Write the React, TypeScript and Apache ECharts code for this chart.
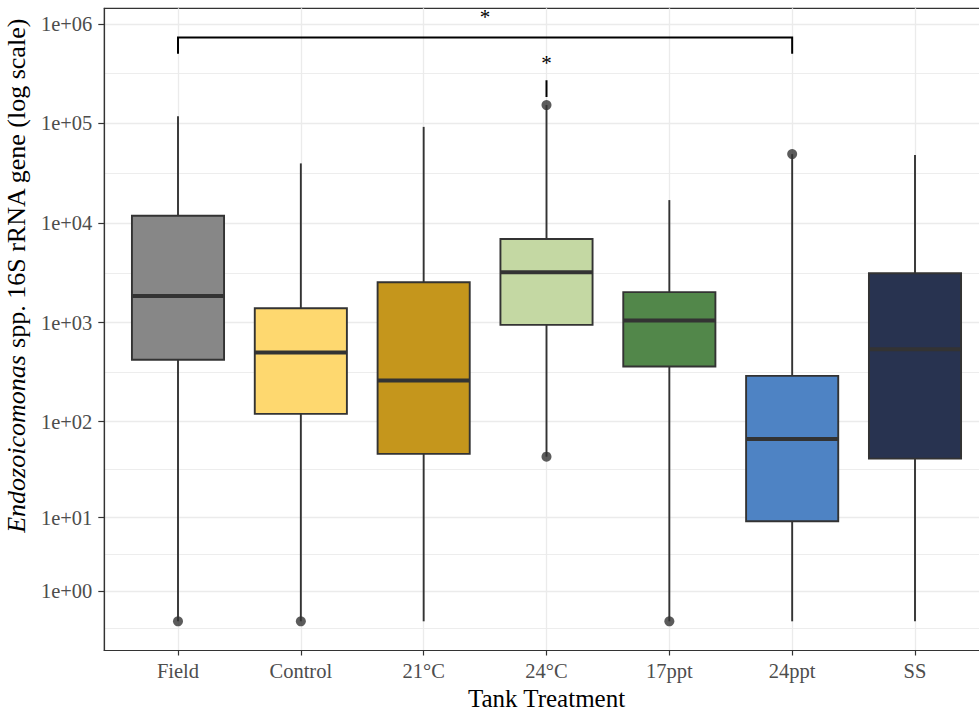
import React, { useEffect, useRef } from "react";
import * as echarts from "echarts";

// Treatment groups along the x axis
const categories = ["Field", "Control", "21°C", "24°C", "17ppt", "24ppt", "SS"];

// Box statistics (gene copies, raw units)
const lowerWhisker = [0, 0, 0, 44, 0, 0, 0];
const q1 = [422, 120, 47, 947, 361, 9.1, 42];
const medians = [1850, 500, 261, 3200, 1047, 66.7, 540];
const q3 = [11840, 1394, 2540, 6920, 2020, 291, 3130];
const upperWhisker = [118000, 39700, 92400, 153000, 17000, 49200, 48100];

// Outlying samples: group index and value
const outlierGroups = [0, 1, 3, 3, 4, 5];
const outlierValues = [0, 0, 153000, 44, 0, 49200];

const boxColors = ["#878787", "#FED86F", "#C5961C", "#C4D8A3", "#52874A", "#4E83C4", "#283350"];

// Axis breaks on the log10(x + 1) scale
const tickValues = [1, 10, 100, 1000, 10000, 100000, 1000000];
const tickLabels = ["1e+00", "1e+01", "1e+02", "1e+03", "1e+04", "1e+05", "1e+06"];

// Significance annotations (group indices and heights in raw units)
const sigFrom = [0, 3];
const sigTo = [5, 3];
const sigTop = [730000, 272000];
const sigTip = [500000, 184000];
const sigLabelAt = [925000, 317000];
const sigLabels = ["*", "*"];

const FONT = "Liberation Serif";
const BOX_WIDTH = 0.75;

const tr = (v: number) => Math.log10(1 + v);

export default function App() {
  const ref = useRef<HTMLDivElement>(null);

  useEffect(() => {
    if (!ref.current) return;
    const chart = echarts.init(ref.current, undefined, { renderer: "svg" });

    const majors = tickValues.map(tr);
    const minors: number[] = [];
    minors.push(majors[0] - (majors[1] - majors[0]) / 2);
    for (let i = 0; i < majors.length - 1; i++) minors.push((majors[i] + majors[i + 1]) / 2);
    minors.push(majors[majors.length - 1] + (majors[majors.length - 1] - majors[majors.length - 2]) / 2);

    // continuous range of the plotted data, padded by 5% each side
    const lo = 0;
    const hi = tr(Math.max(...sigTop));
    const pad = (hi - lo) * 0.05;
    const yMin = lo - pad;
    const yMax = hi + pad;
    const minorIn = minors.filter((m) => m > yMin && m < yMax);

    const boxData = categories.map((_, i) => [
      i,
      tr(lowerWhisker[i]),
      tr(q1[i]),
      tr(medians[i]),
      tr(q3[i]),
      tr(upperWhisker[i]),
    ]);
    const outlierData = outlierGroups.map((g, k) => [g, tr(outlierValues[k])]);
    const sigData = sigFrom.map((f, k) => [f, sigTo[k], tr(sigTop[k]), tr(sigTip[k]), tr(sigLabelAt[k])]);

    const labelFor = (v: number) => {
      const idx = majors.findIndex((m) => Math.abs(m - v) < 1e-6);
      return idx >= 0 ? tickLabels[idx] : "";
    };

    chart.setOption({
      animation: false,
      backgroundColor: "#ffffff",
      grid: {
        left: 104.3,
        right: -9.7,
        top: 8.3,
        bottom: 60.5,
        containLabel: false,
        outerBoundsMode: "none",
        show: true,
        borderColor: "#333333",
        borderWidth: 1.2,
        backgroundColor: "transparent",
      },
      xAxis: {
        type: "value",
        min: -0.6,
        max: categories.length - 1 + 0.6,
        name: "Tank Treatment",
        nameLocation: "middle",
        nameGap: 32,
        nameTextStyle: { fontFamily: FONT, fontSize: 25, lineHeight: 25, color: "#000000" },
        axisLine: { show: true, onZero: false, lineStyle: { color: "#333333", width: 1.2 } },
        axisTick: {
          show: true,
          length: 5,
          customValues: categories.map((_, i) => i),
          lineStyle: { color: "#333333", width: 1.2 },
        },
        axisLabel: {
          customValues: categories.map((_, i) => i),
          formatter: (v: number) => categories[Math.round(v)] ?? "",
          fontFamily: FONT,
          fontSize: 20.5,
          color: "#4D4D4D",
          margin: 10,
        },
        splitLine: { show: true, lineStyle: { color: "#EBEBEB", width: 1.3 } },
      },
      yAxis: [
        {
          type: "value",
          min: yMin,
          max: yMax,
          name: "{i|Endozoicomonas} spp. 16S rRNA gene (log scale)",
          nameLocation: "middle",
          nameGap: 69,
          nameTextStyle: {
            fontFamily: FONT,
            fontSize: 26,
            color: "#000000",
            padding: [0, 0, 0, 108],
            rich: {
              i: { fontFamily: FONT, fontSize: 26, fontStyle: "italic", color: "#000000" },
            },
          },
          axisLine: { show: true, onZero: false, lineStyle: { color: "#333333", width: 1.2 } },
          axisTick: {
            show: true,
            length: 6,
            customValues: majors,
            lineStyle: { color: "#333333", width: 1.2 },
          },
          axisLabel: {
            customValues: majors,
            formatter: labelFor,
            fontFamily: FONT,
            fontSize: 20.5,
            color: "#4D4D4D",
            margin: 12,
          },
          splitLine: { show: true, lineStyle: { color: "#EBEBEB", width: 1.3 } },
        },
        {
          type: "value",
          min: yMin,
          max: yMax,
          position: "left",
          axisLine: { show: false, onZero: false },
          axisTick: { show: false, customValues: minorIn },
          axisLabel: { show: false, customValues: minorIn },
          splitLine: { show: true, lineStyle: { color: "#EBEBEB", width: 0.9 } },
        },
      ],
      series: [
        {
          type: "custom",
          name: "boxes",
          xAxisIndex: 0,
          yAxisIndex: 0,
          clip: false,
          z: 3,
          encode: { x: 0, y: [1, 2, 3, 4, 5] },
          data: boxData,
          renderItem: (params: any, api: any) => {
            const i = params.dataIndex;
            const x = api.value(0);
            const pLo = api.coord([x, api.value(1)]);
            const pQ1 = api.coord([x, api.value(2)]);
            const pMd = api.coord([x, api.value(3)]);
            const pQ3 = api.coord([x, api.value(4)]);
            const pHi = api.coord([x, api.value(5)]);
            const half = api.size([BOX_WIDTH, 0])[0] / 2;
            const cx = pLo[0];
            const line = { stroke: "#333333", lineWidth: 1.9 };
            return {
              type: "group",
              children: [
                { type: "line", shape: { x1: cx, y1: pHi[1], x2: cx, y2: pQ3[1] }, style: line },
                { type: "line", shape: { x1: cx, y1: pQ1[1], x2: cx, y2: pLo[1] }, style: line },
                {
                  type: "rect",
                  shape: { x: cx - half, y: pQ3[1], width: half * 2, height: pQ1[1] - pQ3[1] },
                  style: { fill: boxColors[i], stroke: "#333333", lineWidth: 1.9 },
                },
                {
                  type: "line",
                  shape: { x1: cx - half, y1: pMd[1], x2: cx + half, y2: pMd[1] },
                  style: { stroke: "#333333", lineWidth: 4 },
                },
              ],
            };
          },
        },
        {
          type: "scatter",
          name: "outliers",
          xAxisIndex: 0,
          yAxisIndex: 0,
          z: 4,
          symbol: "circle",
          symbolSize: 10,
          itemStyle: { color: "#333333" },
          data: outlierData,
        },
        {
          type: "custom",
          name: "significance",
          xAxisIndex: 0,
          yAxisIndex: 0,
          clip: false,
          z: 5,
          encode: { x: [0, 1], y: [2, 3, 4] },
          data: sigData,
          renderItem: (params: any, api: any) => {
            const k = params.dataIndex;
            const x0 = api.value(0);
            const x1 = api.value(1);
            const aTip = api.coord([x0, api.value(3)]);
            const aTop = api.coord([x0, api.value(2)]);
            const bTop = api.coord([x1, api.value(2)]);
            const bTip = api.coord([x1, api.value(3)]);
            const lab = api.coord([(x0 + x1) / 2, api.value(4)]);
            return {
              type: "group",
              children: [
                {
                  type: "polyline",
                  shape: { points: [aTip, aTop, bTop, bTip] },
                  style: { stroke: "#000000", lineWidth: 2, fill: "none" },
                },
                {
                  type: "text",
                  x: lab[0],
                  y: lab[1],
                  style: {
                    text: sigLabels[k],
                    fontFamily: FONT,
                    fontSize: 21,
                    fill: "#000000",
                    align: "center",
                    verticalAlign: "bottom",
                  },
                },
              ],
            };
          },
        },
      ],
    });

    return () => chart.dispose();
  }, []);

  return (
    <div
      ref={ref}
      style={{ position: "fixed", left: 0, top: 0, width: 979, height: 711, background: "#ffffff" }}
    />
  );
}
